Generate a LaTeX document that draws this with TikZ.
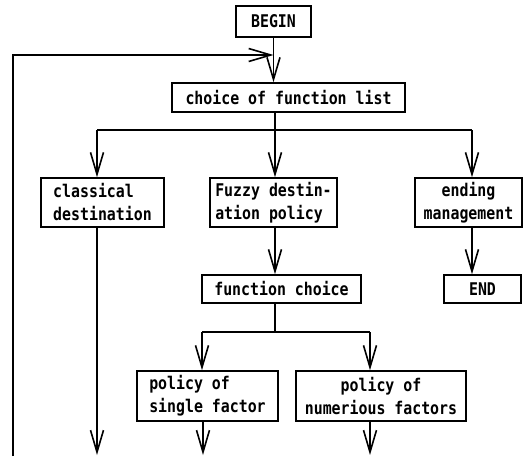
\documentclass[tikz,border=0pt]{standalone}
\usepackage{fontspec}
\newfontfamily\flowfont[FakeStretch=0.85]{DejaVu Sans Mono}
\usetikzlibrary{arrows.meta}

\begin{document}
\begin{tikzpicture}[x=1pt, y=-1pt, line width=1.6pt,
  box/.style={draw, inner sep=0pt, font=\flowfont\bfseries\fontsize{17.5}{23}\selectfont},
  flow/.style={-{Straight Barb[length=22pt, width=13pt]}}]
  \useasboundingbox (0,0) rectangle (528,456);

  % Boxes
  \node[box, minimum width=75pt, minimum height=31pt] (begin) at (273.5,21.5) {BEGIN};
  \node[box, minimum width=233pt, minimum height=29pt] (choice) at (288.5,97.5) {choice of function list};
  \node[box, minimum width=123pt, minimum height=49pt, align=left] (classical) at (102.5,202.5) {classical\\destination};
  \node[box, minimum width=127pt, minimum height=49pt, align=left] (fuzzy) at (273.5,202.5) {Fuzzy destin-\\ation policy};
  \node[box, minimum width=107pt, minimum height=49pt, align=center] (ending) at (468.5,202.5) {ending\\management};
  \node[box, minimum width=159pt, minimum height=28pt] (fchoice) at (281.5,289) {function choice};
  \node[box, minimum width=77pt, minimum height=28pt] (end) at (482.5,289) {END};
  \node[box, minimum width=141pt, minimum height=50pt, align=left] (single) at (207.5,396) {policy of\\single factor};
  \node[box, minimum width=170pt, minimum height=50pt, align=center] (numerous) at (381,396) {policy of\\numerious factors};

  % Junctions and free ends
  \coordinate (J) at (273.5,55);
  \coordinate (L) at (13,456);
  \coordinate (Ba) at (97,130);
  \coordinate (Bb) at (275,130);
  \coordinate (Bc) at (472,130);
  \coordinate (Ca) at (202,332);
  \coordinate (Cb) at (370,332);
  \coordinate (Oa) at (97,455);
  \coordinate (Ob) at (203,455);
  \coordinate (Oc) at (370,455);

  % Connectors
  \draw[flow] (begin) -- (begin |- choice.north);
  \draw[flow] (L) -- (L |- J) -- (J);
  \draw (Bb |- choice.south) -- (Bb);
  \draw (Ba) -- (Bc);
  \draw[flow] (Ba) -- (Ba |- classical.north);
  \draw[flow] (Bb) -- (Bb |- fuzzy.north);
  \draw[flow] (Bc) -- (Bc |- ending.north);
  \draw[flow] (Bb |- fuzzy.south) -- (Bb |- fchoice.north);
  \draw[flow] (Bc |- ending.south) -- (Bc |- end.north);
  \draw[flow] (Ba |- classical.south) -- (Oa);
  \draw (fchoice.south -| Bb) -- (Bb |- Ca);
  \draw (Ca) -- (Cb);
  \draw[flow] (Ca) -- (Ca |- single.north);
  \draw[flow] (Cb) -- (Cb |- numerous.north);
  \draw[flow] (Ob |- single.south) -- (Ob);
  \draw[flow] (Oc |- numerous.south) -- (Oc);
\end{tikzpicture}
\end{document}
